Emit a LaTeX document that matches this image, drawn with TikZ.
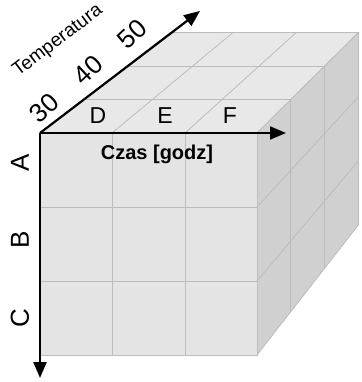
\documentclass[tikz,border=0pt]{standalone}
\usepackage{fontspec}
\setmainfont{Liberation Sans}
\usetikzlibrary{calc,arrows.meta}
\definecolor{frontgray}{RGB}{228,228,228}
\definecolor{topgray}{RGB}{232,232,232}
\definecolor{sidegray}{RGB}{208,208,208}
\definecolor{gridgray}{RGB}{188,188,188}

\begin{document}
\begin{tikzpicture}[x=1pt,y=1pt,yscale=-1,xscale=1,
  gridline/.style={draw=gridgray,line width=0.8},
  axisline/.style={line width=2.2,color=black,-{Triangle[length=16pt,width=13pt]}},
  bigtext/.style={inner sep=0.75pt,font=\fontsize{23}{26}\selectfont},
  rowtext/.style={inner sep=0.75pt,rotate=90,font=\fontsize{26}{28}\selectfont},
  numtext/.style={inner sep=0.75pt,rotate=43,font=\fontsize{26}{28}\selectfont}]

\useasboundingbox (0,0) rectangle (361,382);

% vanishing point of the cube
\coordinate (vp) at (1015,-617);
\coordinate (o) at (40,133);
\coordinate (fr) at (257,133);
\coordinate (fbr) at (257,355);
\coordinate (fbl) at (40,355);
\coordinate (bl) at ($(vp)!0.866!(o)$);
\coordinate (br) at ($(vp)!0.866!(fr)$);
\coordinate (bbr) at ($(vp)!0.866!(fbr)$);

% Faces
\draw [gridline,fill=topgray] (o) -- (fr) -- (br) -- (bl) -- cycle;
\draw [gridline,fill=sidegray] (fr) -- (fbr) -- (bbr) -- (br) -- cycle;
\draw [gridline,fill=frontgray] (o) -- (fr) -- (fbr) -- (fbl) -- cycle;

% Grid
\foreach \gx in {112,185} {
  \draw [gridline] (\gx,133) -- (\gx,355);
  \draw [gridline] (\gx,133) -- ($(vp)!0.866!(\gx,133)$);
}
\foreach \gy in {207,281} {
  \draw [gridline] (40,\gy) -- (257,\gy);
  \draw [gridline] (257,\gy) -- ($(vp)!0.866!(257,\gy)$);
}
\foreach \gs in {0.9553,0.9107} {
  \draw [gridline] ($(vp)!\gs!(o)$) -- ($(vp)!\gs!(fr)$);
  \draw [gridline] ($(vp)!\gs!(fr)$) -- ($(vp)!\gs!(fbr)$);
}

% Axes
\coordinate (tdown) at (40,378);
\coordinate (tright) at (286,133);
\coordinate (tdeep) at (200,11);
\draw [axisline] (o) -- (tdown);
\draw [axisline] (o) -- (tright);
\draw [axisline] (o) -- (tdeep);

% Text Node
\draw (98,116) node (lblD) [bigtext] {D};
\draw (165,116) node (lblE) [bigtext] {E};
\draw (230,116) node (lblF) [bigtext] {F};
\draw (157,154) node (czas) [inner sep=0.75pt] [font=\fontsize{20}{22}\selectfont\bfseries] {Czas [godz]};

\draw (20,163) node (lblA) [rowtext] {A};
\draw (20,240) node (lblB) [rowtext] {B};
\draw (20,318) node (lblC) [rowtext] {C};

\draw (44,108) node (t30) [numtext] {30};
\draw (88,70) node (t40) [numtext] {40};
\draw (132,34) node (t50) [numtext] {50};
\draw (58,41) node (temp) [inner sep=0.75pt,rotate=37] [font=\fontsize{19}{21}\selectfont] {Temperatura};

\end{tikzpicture}
\end{document}
